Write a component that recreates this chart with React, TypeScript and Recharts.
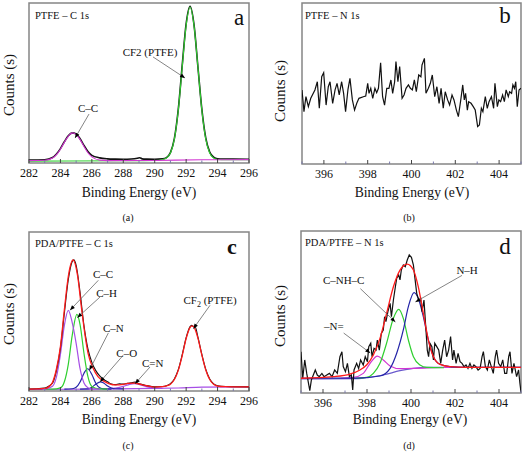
import React from "react";
import { LineChart, Line, XAxis, YAxis, ReferenceArea, ReferenceLine, ReferenceDot } from "recharts";

type Pt = [number, number];

// y values are read as % of the plot height (arbitrary counts)

// (a) PTFE - C 1s
const aTicks = [282, 283, 284, 285, 286, 287, 288, 289, 290, 291, 292, 293, 294, 295, 296];
const aRaw: Pt[] = [
  [282, 1.8], [283, 2.0], [283.5, 3.4], [283.75, 5.6], [284, 9.0], [284.25, 13.3], [284.5, 17.0], [284.75, 18.8],
  [285, 18.2], [285.25, 15.2], [285.5, 11.0], [285.75, 7.2], [286, 4.8], [286.5, 3.2], [287, 2.6], [287.5, 2.4],
  [288, 2.3], [288.5, 2.5], [288.9, 3.0], [289.05, 3.3], [289.2, 2.6], [289.5, 2.4], [290, 2.3], [290.5, 2.6],
  [290.75, 3.4], [291, 6.5], [291.25, 15.2], [291.5, 33.5], [291.75, 61], [292, 87], [292.25, 98], [292.5, 86.5],
  [292.75, 60], [293, 33.5], [293.25, 15.5], [293.5, 6.8], [293.75, 3.6], [294, 2.7], [294.5, 2.5], [295, 2.4], [296, 2.3],
];
const aCC: Pt[] = [
  [282, 1.5], [283, 1.7], [283.5, 3.1], [283.75, 5.2], [284, 8.6], [284.25, 12.9], [284.5, 16.7], [284.75, 18.8],
  [285, 17.9], [285.25, 14.6], [285.5, 10.3], [285.75, 6.4], [286, 3.8], [286.5, 1.8], [287, 1.5], [290, 1.6],
  [293, 2.0], [296, 2.1],
];
const aCF2: Pt[] = [
  [282, 1.2], [288, 1.4], [290, 1.6], [290.5, 2.2], [290.75, 3.1], [291, 6.2], [291.25, 14.9], [291.5, 33],
  [291.75, 60], [292, 86], [292.25, 97.5], [292.5, 86], [292.75, 60], [293, 33], [293.25, 14.9], [293.5, 6.2],
  [293.75, 3.1], [294, 2.2], [294.5, 2.0], [296, 2.0],
];

// (b) PTFE - N 1s
const nTicks = [395, 396, 397, 398, 399, 400, 401, 402, 403, 404, 405];
const bRaw: Pt[] = [
  [395.0, 46.0], [395.09, 32.5], [395.18, 41.8], [395.29, 35.6], [395.4, 40.8], [395.59, 46.0], [395.7, 51.1],
  [395.79, 34.6], [395.9, 54.2], [395.99, 56.7], [396.1, 36.6], [396.2, 48.0], [396.28, 51.1], [396.4, 37.7],
  [396.51, 46.0], [396.6, 50.1], [396.7, 42.9], [396.81, 51.1], [396.9, 43.9], [396.99, 32.5], [397.1, 46.4],
  [397.19, 53.2], [397.3, 39.8], [397.4, 33.5], [397.5, 37.7], [397.6, 40.8], [397.8, 41.8], [397.91, 42.2],
  [398.0, 50.1], [398.06, 43.9], [398.14, 47.0], [398.23, 40.8], [398.33, 47.0], [398.41, 44.3], [398.49, 47.0],
  [398.59, 62.9], [398.68, 41.8], [398.77, 36.6], [398.87, 47.0], [398.97, 47.0], [399.06, 52.2], [399.14, 43.9],
  [399.23, 51.1], [399.29, 63.6], [399.38, 51.1], [399.46, 60.5], [399.57, 40.8], [399.66, 42.9], [399.75, 47.0],
  [399.86, 49.1], [399.95, 47.0], [400.04, 46.0], [400.13, 52.2], [400.22, 44.9], [400.33, 55.3], [400.43, 54.2],
  [400.48, 61.5], [400.59, 65.6], [400.66, 43.9], [400.77, 47.0], [400.86, 50.1], [400.95, 55.3], [401.06, 41.8],
  [401.16, 48.0], [401.26, 37.7], [401.35, 47.0], [401.45, 34.6], [401.54, 44.9], [401.65, 39.8], [401.74, 36.6],
  [401.85, 42.9], [401.94, 39.8], [402.05, 33.5], [402.14, 29.4], [402.25, 39.8], [402.34, 49.1], [402.41, 39.8],
  [402.47, 43.9], [402.55, 33.5], [402.61, 38.7], [402.72, 37.7], [402.82, 35.6], [402.91, 33.5], [403.02, 23.2],
  [403.1, 24.2], [403.19, 34.6], [403.26, 32.5], [403.37, 41.8], [403.46, 34.6], [403.54, 38.7], [403.65, 41.8],
  [403.75, 34.6], [403.81, 50.1], [403.92, 35.6], [403.99, 39.8], [404.07, 38.7], [404.16, 42.9], [404.24, 38.7],
  [404.32, 46.0], [404.42, 41.8], [404.48, 44.9], [404.57, 43.9], [404.63, 49.1], [404.7, 47.0], [404.76, 51.1],
  [404.83, 35.6], [404.91, 46.0], [405.0, 47.0],
];

// (c) PDA/PTFE - C 1s
const cRaw: Pt[] = [
  [282, 1.3], [282.5, 1.4], [283, 1.8], [283.25, 3.0], [283.5, 5.0], [283.75, 13], [284, 27], [284.25, 49],
  [284.5, 70], [284.75, 81.5], [284.85, 82.5], [285, 79], [285.25, 62], [285.5, 41], [285.75, 26.5], [286, 18],
  [286.25, 12.8], [286.5, 9.5], [286.75, 7.2], [287, 5.8], [287.25, 4.4], [287.5, 4.0], [287.75, 4.6], [288, 4.3],
  [288.25, 4.8], [288.5, 5.2], [288.75, 5.6], [289, 4.6], [289.25, 4.0], [289.5, 3.4], [290, 2.6], [290.5, 2.8],
  [290.75, 3.3], [291, 4.6], [291.25, 7.6], [291.5, 13.4], [291.75, 22.8], [292, 33.5], [292.25, 40.5],
  [292.35, 41.3], [292.45, 40.6], [292.55, 41.0], [292.75, 33.8], [293, 23.0], [293.25, 13.6], [293.5, 7.6],
  [293.75, 4.5], [294, 3.3], [294.5, 2.8], [295, 2.7], [296, 2.6],
];
const cFit: Pt[] = [
  [282, 1.2], [282.5, 1.3], [283, 1.6], [283.25, 2.6], [283.5, 5.5], [283.75, 14], [284, 28], [284.25, 51],
  [284.5, 72], [284.8, 82.4], [285.1, 72], [285.33, 53], [285.55, 36.3], [285.76, 23.7], [286.08, 14.3],
  [286.39, 9.0], [286.82, 5.9], [287.46, 3.8], [288, 4.2], [288.3, 4.8], [288.7, 5.0], [289, 4.4], [289.5, 3.3],
  [290, 2.5], [290.5, 2.7], [290.75, 3.2], [291, 4.3], [291.25, 7.2], [291.5, 13.0], [291.75, 22.3], [292, 33],
  [292.25, 40], [292.38, 41], [292.5, 40.2], [292.75, 33.3], [293, 22.6], [293.25, 13.2], [293.5, 7.2],
  [293.75, 4.2], [294, 3.1], [294.5, 2.7], [295, 2.6], [296, 2.6],
];
const cCC: Pt[] = [
  [283, 1.2], [283.5, 3.0], [283.75, 9.0], [284, 23], [284.25, 41.3], [284.5, 50.7], [284.75, 43], [285, 30],
  [285.25, 14], [285.5, 5.0], [285.75, 2.0], [286, 1.3], [286.5, 1.2],
];
const cCH: Pt[] = [
  [283, 1.2], [283.5, 1.2], [284, 2.0], [284.25, 5.8], [284.5, 16.8], [284.75, 35], [285.05, 48.2], [285.25, 41.8],
  [285.5, 23.6], [285.75, 9.0], [286, 2.9], [286.5, 1.3], [287, 1.2],
];
const cCN: Pt[] = [
  [284.25, 1.2], [284.75, 1.4], [285, 2.3], [285.25, 5.7], [285.5, 11.2], [285.73, 14.0], [286, 10.4],
  [286.25, 4.9], [286.5, 2.0], [286.75, 1.3], [287.25, 1.2],
];
const cCO: Pt[] = [
  [285.25, 1.2], [285.75, 1.3], [286, 2.4], [286.25, 4.3], [286.55, 5.8], [286.75, 5.0], [287, 3.1],
  [287.25, 1.8], [287.5, 1.4], [288, 1.3],
];
const cCdN: Pt[] = [
  [287, 1.5], [287.5, 1.9], [288, 2.9], [288.4, 4.2], [288.7, 4.6], [289, 4.2], [289.4, 2.9], [289.9, 1.9],
  [290.5, 1.6],
];
const cBase: Pt[] = [[282, 1.0], [286, 1.2], [290, 1.6], [291.5, 1.9], [293, 2.4], [296, 2.6]];

// (d) PDA/PTFE - N 1s
const dRaw: Pt[] = [
  [395.0, 25.5], [395.08, 9.1], [395.17, 20.4], [395.26, 12.1], [395.4, 1.5], [395.47, 8.0], [395.56, 11.1],
  [395.65, 14.2], [395.74, 11.1], [395.83, 10.1], [395.95, 12.1], [396.05, 10.1], [396.17, 11.1], [396.29, 12.1],
  [396.41, 10.1], [396.53, 14.2], [396.65, 12.1], [396.77, 22.4], [396.86, 25.5], [396.92, 16.3], [397.02, 13.2],
  [397.11, 18.3], [397.2, 10.1], [397.29, 11.1], [397.35, 1.9], [397.41, 14.2], [397.53, 18.3], [397.62, 15.2],
  [397.71, 20.4], [397.83, 17.3], [397.92, 22.4], [398.02, 19.3], [398.08, 28.6], [398.17, 30.7], [398.23, 22.4],
  [398.32, 27.6], [398.41, 26.5], [398.47, 32.7], [398.56, 26.5], [398.65, 36.8], [398.74, 38.9], [398.8, 47.1],
  [398.86, 44.0], [398.95, 50.2], [399.05, 55.3], [399.11, 47.1], [399.2, 57.4], [399.29, 65.6], [399.35, 70.8],
  [399.44, 72.8], [399.5, 69.8], [399.56, 75.9], [399.65, 79.0], [399.74, 78.0], [399.83, 82.1], [399.92, 85.2],
  [400.02, 83.7], [400.11, 79.0], [400.17, 71.8], [400.26, 61.5], [400.35, 57.4], [400.44, 58.4], [400.5, 50.2],
  [400.59, 57.4], [400.68, 38.9], [400.74, 26.5], [400.8, 22.4], [400.86, 30.7], [400.95, 28.6], [401.02, 20.4],
  [401.08, 30.7], [401.17, 28.6], [401.26, 26.5], [401.35, 18.3], [401.44, 26.5], [401.53, 32.7], [401.62, 22.4],
  [401.71, 26.5], [401.8, 34.8], [401.89, 20.4], [401.95, 26.5], [402.05, 18.3], [402.14, 24.5], [402.23, 19.3],
  [402.32, 18.3], [402.41, 16.3], [402.5, 17.3], [402.59, 15.2], [402.68, 18.3], [402.77, 15.2], [402.86, 17.3],
  [402.95, 16.3], [403.05, 14.2], [403.14, 15.2], [403.23, 22.4], [403.29, 25.5], [403.38, 16.3], [403.47, 14.2],
  [403.56, 20.4], [403.65, 16.3], [403.74, 12.1], [403.83, 22.4], [403.89, 26.5], [403.98, 18.3], [404.08, 16.3],
  [404.17, 20.4], [404.26, 12.1], [404.35, 12.1], [404.44, 22.4], [404.5, 25.5], [404.59, 12.1], [404.68, 18.3],
  [404.74, 14.2], [404.8, 10.1], [404.89, 14.2], [404.95, 6.0], [405.0, 0.5],
];
const dFit: Pt[] = [
  [395, 9.1], [396.47, 10.1], [397.23, 11.7], [397.68, 14.2], [397.98, 17.3], [398.29, 23.5], [398.59, 33.7],
  [398.89, 49.2], [399.2, 65.6], [399.5, 75.9], [399.83, 79.6], [400.11, 75.9], [400.33, 65.6], [400.56, 49.2],
  [400.79, 32.7], [401.02, 22.4], [401.32, 17.7], [401.77, 16.3], [402.53, 15.8], [405, 15.8],
];
const dCNHC: Pt[] = [
  [397.5, 9.1], [397.98, 9.6], [398.29, 12.1], [398.59, 18.3], [398.89, 30.7], [399.2, 46.1], [399.44, 51.6],
  [399.65, 46.1], [399.88, 32.7], [400.11, 22.4], [400.41, 17.3], [400.71, 15.8], [401.5, 15.6],
];
const dNH: Pt[] = [
  [395, 9.1], [397.5, 9.2], [398.59, 10.5], [399.05, 15.2], [399.35, 24.5], [399.65, 38.9], [399.88, 53.3],
  [400.14, 61.9], [400.33, 58.4], [400.56, 47.1], [400.79, 32.7], [401.02, 22.4], [401.32, 17.7], [401.77, 16.3],
  [402.53, 15.8], [405, 15.8],
];
const dNdbl: Pt[] = [
  [396.8, 9.1], [397.38, 9.6], [397.83, 12.1], [398.14, 18.3], [398.47, 22.8], [398.74, 20.4], [399.05, 16.7],
  [399.5, 15.0], [400.2, 15.2], [401.0, 15.6], [401.8, 15.8],
];
const dBase: Pt[] = [
  [395, 8.7], [397.6, 8.9], [398.1, 9.7], [398.74, 11.1], [399.5, 13.8], [400.11, 15.2], [400.7, 15.8], [405, 15.8],
];

const SERIF = "'Liberation Serif', 'Times New Roman', Times, Tinos, 'Nimbus Roman', 'DejaVu Serif', serif";
const BLACK = "#111111";
const RED = "#ff1a1a";
const GREEN = "#2fcf2f";
const MAGENTA = "#d236d2";
const VIOLET = "#a64ee6";
const NAVY = "#2424a8";
const LAVENDER = "#6a5acd";

type Series = { pts: Pt[]; color: string; width?: number; curve?: "monotone" | "linear" };
type Note = { tx: number; ty: number; text: React.ReactNode; x1: number; y1: number; x2: number; y2: number };

const rows = (pts: Pt[]) => pts.map(([x, y]) => ({ x, y }));

function AxisTick(props: any) {
  const { x, y, payload } = props;
  const v = payload.value as number;
  const major = v % 2 === 0;
  return (
    <g>
      <line x1={x} x2={x} y1={y} y2={y - (major ? 4 : 2.5)} stroke={major ? "#444" : "#7a7aaa"} strokeWidth={1} />
      {major && (
        <text x={x} y={y + 14} textAnchor="middle" fontSize={12} fill="#111" style={{ fontFamily: SERIF }}>
          {v}
        </text>
      )}
    </g>
  );
}

function Arrow(props: any) {
  const { x1, y1, x2, y2 } = props;
  const a = Math.atan2(y2 - y1, x2 - x1);
  const L = 5;
  const W = 2;
  const bx = x2 - L * Math.cos(a);
  const by = y2 - L * Math.sin(a);
  const pts = `${x2},${y2} ${bx - W * Math.sin(a)},${by + W * Math.cos(a)} ${bx + W * Math.sin(a)},${by - W * Math.cos(a)}`;
  return (
    <g>
      <line x1={x1} y1={y1} x2={x2} y2={y2} stroke="#666" strokeWidth={0.8} />
      <polygon points={pts} fill="#000" />
    </g>
  );
}

function Panel(props: {
  left: number;
  top: number;
  margin: { top: number; right: number; bottom: number; left: number };
  domain: [number, number];
  ticks: number[];
  series: Series[];
  notes: Note[];
}) {
  const { left, top, margin, domain, ticks, series, notes } = props;
  return (
    <div style={{ position: "absolute", left, top }}>
      <LineChart width={262} height={227} margin={margin}>
        <XAxis
          type="number"
          dataKey="x"
          domain={domain}
          ticks={ticks}
          interval={0}
          height={20}
          tickSize={0}
          tickMargin={0}
          tickLine={false}
          axisLine={false}
          tick={<AxisTick />}
          allowDataOverflow
        />
        <YAxis type="number" domain={[0, 100]} hide allowDataOverflow />
        {series.map((s, i) => (
          <Line
            key={i}
            data={rows(s.pts)}
            dataKey="y"
            type={s.curve ?? "monotone"}
            stroke={s.color}
            strokeWidth={s.width ?? 1.2}
            dot={false}
            isAnimationActive={false}
          />
        ))}
        {notes.map((n, i) => (
          <ReferenceLine
            key={"l" + i}
            segment={[{ x: n.x1, y: n.y1 }, { x: n.x2, y: n.y2 }]}
            ifOverflow="visible"
            shape={Arrow}
          />
        ))}
        {notes.map((n, i) => (
          <ReferenceDot
            key={"t" + i}
            x={n.tx}
            y={n.ty}
            r={1}
            ifOverflow="visible"
            shape={(p: any) => (
              <text x={p.cx} y={p.cy} textAnchor="middle" dominantBaseline="central" fontSize={11} fill="#111" style={{ fontFamily: SERIF }}>
                {n.text}
              </text>
            )}
          />
        ))}
        <ReferenceArea x1={domain[0]} x2={domain[1]} y1={0} y2={100} fill="none" stroke="#858585" strokeWidth={1.5} ifOverflow="visible" />
      </LineChart>
    </div>
  );
}

function Txt(props: { x: number; y: number; size: number; children: React.ReactNode; anchor?: "left" | "center"; rotate?: boolean; bold?: boolean }) {
  const { x, y, size, children, anchor = "center", rotate, bold } = props;
  const tf = anchor === "center" ? "translate(-50%, -50%)" : "translate(0, -50%)";
  return (
    <div
      style={{
        position: "absolute",
        left: x,
        top: y,
        fontSize: size,
        fontFamily: SERIF,
        fontWeight: bold ? 700 : 400,
        color: "#111",
        whiteSpace: "nowrap",
        lineHeight: 1,
        transform: rotate ? tf + " rotate(-90deg)" : tf,
      }}
    >
      {children}
    </div>
  );
}

const cf2 = (
  <>
    CF<tspan baselineShift="sub" fontSize={8}>2</tspan> (PTFE)
  </>
);

export default function App() {
  return (
    <div style={{ position: "absolute", left: 0, top: 0, width: 524, height: 454, background: "#fff", overflow: "hidden", fontFamily: SERIF }}>
      <Panel
        left={0}
        top={0}
        margin={{ top: 3, right: 13, bottom: 44, left: 29 }}
        domain={[282, 296]}
        ticks={aTicks}
        series={[
          { pts: aRaw, color: BLACK, width: 1.6 },
          { pts: aCF2, color: GREEN, width: 1.1 },
          { pts: aCC, color: MAGENTA, width: 1.1 },
        ]}
        notes={[
          { tx: 285.76, ty: 34.4, text: "C–C", x1: 285.82, y1: 30.6, x2: 284.93, y2: 15.6 },
          { tx: 289.7, ty: 69.4, text: "CF2 (PTFE)", x1: 289.89, y1: 66.3, x2: 291.93, y2: 53.1 },
        ]}
      />
      <Panel
        left={262}
        top={0}
        margin={{ top: 3, right: 3, bottom: 43, left: 40 }}
        domain={[395, 405]}
        ticks={nTicks}
        series={[{ pts: bRaw, color: BLACK, width: 1.2, curve: "linear" }]}
        notes={[]}
      />
      <Panel
        left={0}
        top={227}
        margin={{ top: 5, right: 13, bottom: 43, left: 29 }}
        domain={[282, 296]}
        ticks={aTicks}
        series={[
          { pts: cBase, color: VIOLET },
          { pts: cCdN, color: VIOLET },
          { pts: cCO, color: NAVY },
          { pts: cCN, color: NAVY },
          { pts: cCH, color: GREEN },
          { pts: cCC, color: VIOLET },
          { pts: cRaw, color: BLACK, width: 1.1 },
          { pts: cFit, color: RED, width: 1.3 },
        ]}
        notes={[
          { tx: 286.71, ty: 73.8, text: "C–C", x1: 286.41, y1: 69.6, x2: 284.61, y2: 50.8 },
          { tx: 286.94, ty: 61.6, text: "C–H", x1: 286.52, y1: 59.1, x2: 285.07, y2: 46.1 },
          { tx: 287.37, ty: 39.6, text: "C–N", x1: 287.05, y1: 36.5, x2: 285.84, y2: 13.0 },
          { tx: 288.22, ty: 23.9, text: "C–O", x1: 287.9, y1: 21.4, x2: 286.52, y2: 5.7 },
          { tx: 289.87, ty: 17.6, text: "C=N", x1: 289.7, y1: 15.1, x2: 288.75, y2: 4.6 },
          { tx: 293.52, ty: 57.4, text: cf2, x1: 293.52, y1: 53.9, x2: 292.46, y2: 39.2 },
        ]}
      />
      <Panel
        left={262}
        top={227}
        margin={{ top: 4, right: 3, bottom: 41, left: 39 }}
        domain={[395, 405]}
        ticks={nTicks}
        series={[
          { pts: dBase, color: LAVENDER },
          { pts: dNdbl, color: MAGENTA },
          { pts: dCNHC, color: GREEN },
          { pts: dNH, color: NAVY },
          { pts: dRaw, color: BLACK, width: 1.2, curve: "linear" },
          { pts: dFit, color: RED, width: 1.3 },
        ]}
        notes={[
          { tx: 396.94, ty: 69.6, text: "C–NH–C", x1: 397.7, y1: 64.4, x2: 399.29, y2: 43.8 },
          { tx: 402.55, ty: 75.7, text: "N–H", x1: 402.32, y1: 72.6, x2: 400.2, y2: 56.2 },
          { tx: 396.49, ty: 41.2, text: "–N=", x1: 396.94, y1: 37.0, x2: 398.15, y2: 24.7 },
        ]}
      />

      <Txt x={35} y={16} size={10.5} anchor="left">PTFE – C 1s</Txt>
      <Txt x={305} y={16} size={10.5} anchor="left">PTFE – N 1s</Txt>
      <Txt x={35} y={244} size={10.5} anchor="left">PDA/PTFE – C 1s</Txt>
      <Txt x={305} y={243} size={10.5} anchor="left">PDA/PTFE – N 1s</Txt>

      <Txt x={239} y={17} size={23}>a</Txt>
      <Txt x={505} y={15} size={23}>b</Txt>
      <Txt x={232} y={247} size={22} bold>c</Txt>
      <Txt x={505} y={246} size={23}>d</Txt>

      <Txt x={9} y={85} size={15} rotate>Counts (s)</Txt>
      <Txt x={280} y={91} size={15} rotate>Counts (s)</Txt>
      <Txt x={9} y={314} size={15} rotate>Counts (s)</Txt>
      <Txt x={280} y={316} size={15} rotate>Counts (s)</Txt>

      <Txt x={139} y={193} size={13.6}>Binding Energy (eV)</Txt>
      <Txt x={412} y={193} size={13.6}>Binding Energy (eV)</Txt>
      <Txt x={139} y={420} size={13.6}>Binding Energy (eV)</Txt>
      <Txt x={410} y={420} size={13.6}>Binding Energy (eV)</Txt>

      <Txt x={128} y={218} size={10}>(a)</Txt>
      <Txt x={409} y={218} size={10}>(b)</Txt>
      <Txt x={128} y={446} size={10}>(c)</Txt>
      <Txt x={409} y={446} size={10}>(d)</Txt>
    </div>
  );
}
